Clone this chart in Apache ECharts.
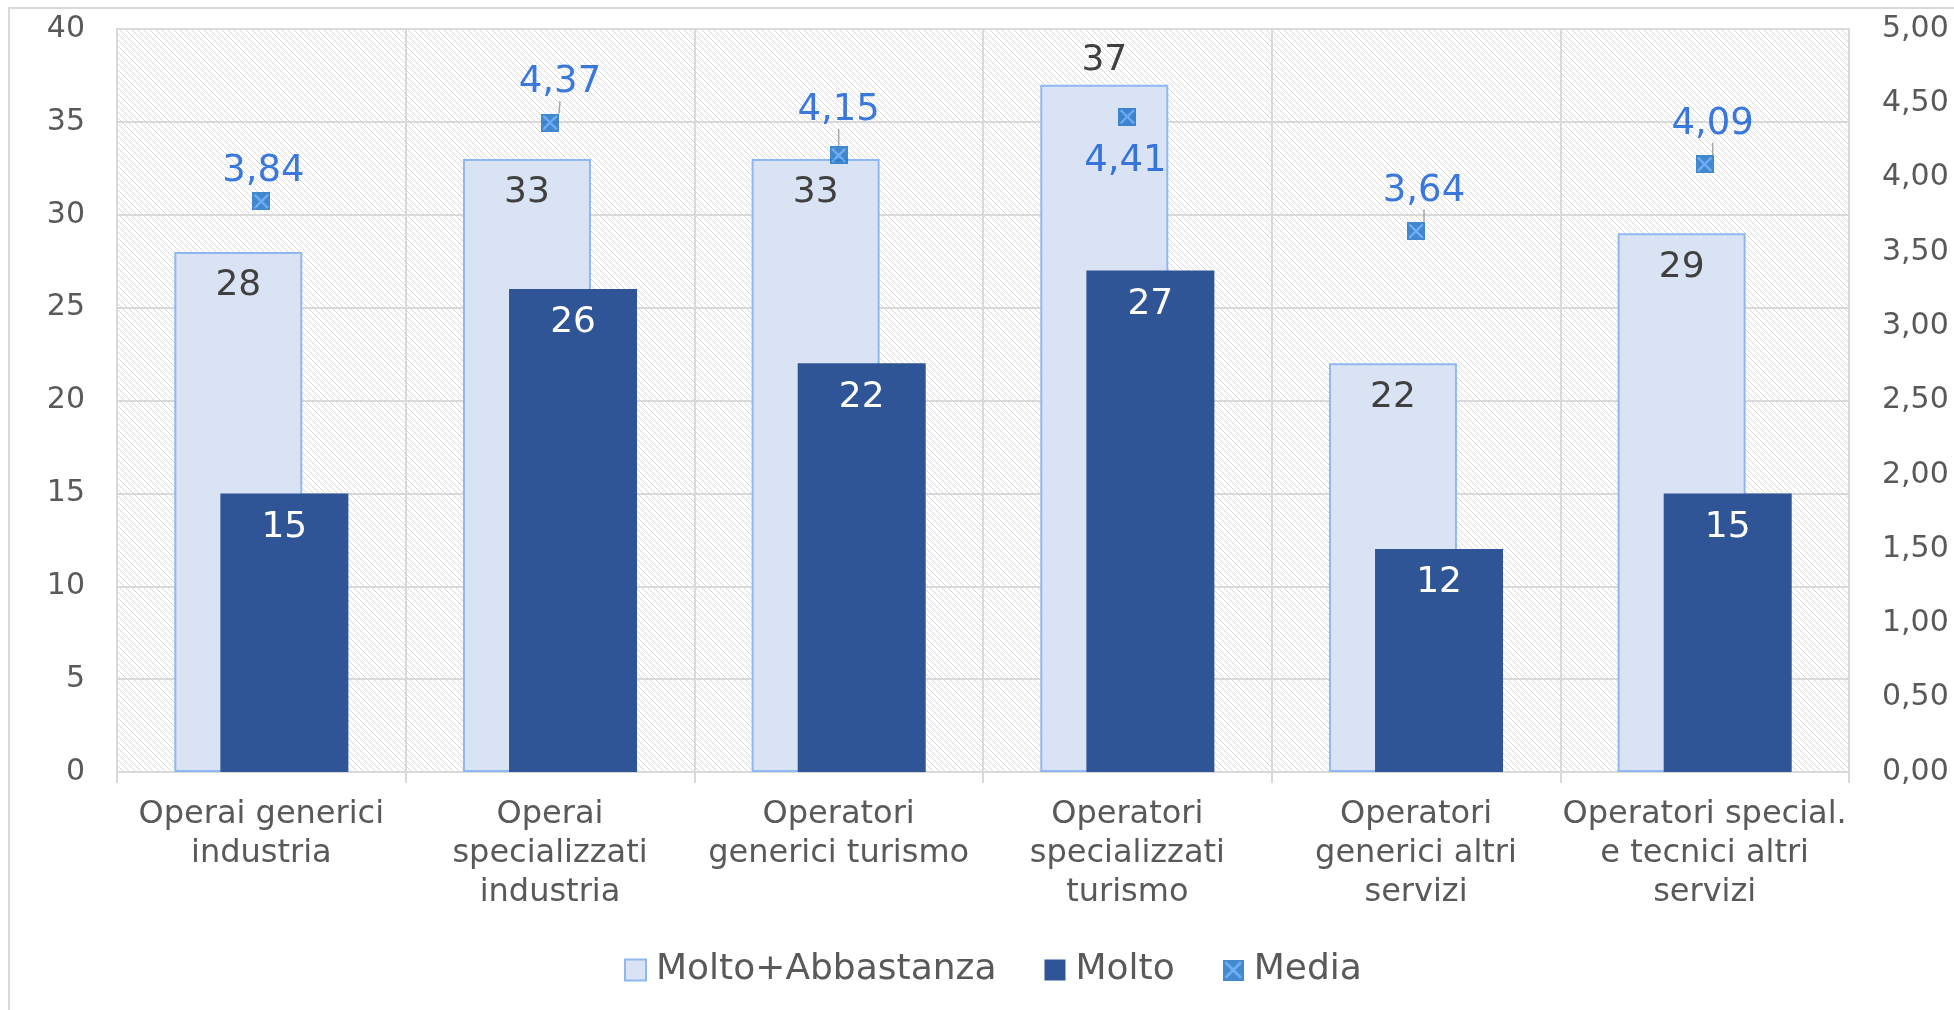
<!DOCTYPE html>
<html><head><meta charset="utf-8">
<script src="https://cdn.jsdelivr.net/npm/echarts@6/dist/echarts.min.js"></script>
<style>html,body{margin:0;padding:0;background:#fff}#c{width:1954px;height:1010px}</style>
</head><body><div id="c"></div>
<script>
const categories = [
  'Operai generici\nindustria',
  'Operai\nspecializzati\nindustria',
  'Operatori\ngenerici turismo',
  'Operatori\nspecializzati\nturismo',
  'Operatori\ngenerici altri\nservizi',
  'Operatori special.\ne tecnici altri\nservizi'
];
const moltoAbbastanza = [28, 33, 33, 37, 22, 29];
const molto = [15, 26, 22, 27, 12, 15];
const media = [3.84, 4.37, 4.15, 4.41, 3.64, 4.09];
const leftMax = 40, leftStep = 5;
const rightMax = 5, rightStep = 0.5;

// styling helpers (not data)
const mabLabelPos = ['insideTop','insideTop','insideTop','top','insideTop','insideTop'];
const mediaLabelOffset = [[2,-30],[10,-40],[0,-45],[-2,45],[8,-40],[8,-40]];
const mediaLeader = [false,true,true,false,true,true];

const fmt = v => Number(v).toFixed(2).replace('.', ',');

// hatched plot background
const pc = document.createElement('canvas'); pc.width = 6; pc.height = 6;
const g = pc.getContext('2d');
g.fillStyle = '#ffffff'; g.fillRect(0,0,6,6);
g.strokeStyle = '#d9d9d9'; g.lineWidth = 1;
g.beginPath();
g.moveTo(-1,-1); g.lineTo(7,7);
g.moveTo(-1,5); g.lineTo(1,7);
g.moveTo(5,-1); g.lineTo(7,1);
g.stroke();

// marker: blue square with lighter X
const mc = document.createElement('canvas'); mc.width = 54; mc.height = 54;
const m = mc.getContext('2d');
m.fillStyle = '#146cc4'; m.fillRect(0,0,54,54);
m.strokeStyle = '#4f9cf2'; m.lineWidth = 7; m.lineCap = 'butt';
m.beginPath(); m.moveTo(7,7); m.lineTo(47,47); m.moveTo(47,7); m.lineTo(7,47); m.stroke();
const markerImg = 'image://' + mc.toDataURL();

const chart = echarts.init(document.getElementById('c'), null, {renderer:'canvas'});
const gridCol = '#d9d9d9';
const option = {
  animation: false,
  textStyle: {fontFamily: '"DejaVu Sans", Verdana, sans-serif'},
  graphic: [{type:'rect', shape:{x:9, y:8, width:2000, height:1100}, style:{fill:'none', stroke:gridCol, lineWidth:2}, z:-10, silent:true}],
  grid: {left:117, right:105, top:29, bottom:238, show:true,
         backgroundColor:{image:pc, repeat:'repeat'}, borderColor:gridCol, borderWidth:2,
         outerBoundsMode:'none', containLabel:false},
  legend: {
    data: ['Molto+Abbastanza', 'Molto', {name:'Media', icon:markerImg}],
    icon: 'rect', left: 619, top: 947, itemWidth: 21, itemHeight: 21, itemGap: 48,
    textStyle: {fontSize: 36, color: '#595959', padding:[0,0,0,5]}
  },
  xAxis: {
    type: 'category', data: categories,
    axisLine: {lineStyle:{color:gridCol, width:2}},
    axisTick: {show:true, length:11, lineStyle:{color:gridCol, width:2}},
    splitLine: {show:true, lineStyle:{color:gridCol, width:2}},
    axisLabel: {color:'#595959', fontSize:32, lineHeight:39, margin:23, interval:0}
  },
  yAxis: [
    {type:'value', min:0, max:leftMax, interval:leftStep,
     axisLine:{show:false}, axisTick:{show:false},
     splitLine:{lineStyle:{color:gridCol, width:2}},
     axisLabel:{color:'#595959', fontSize:30, margin:32}},
    {type:'value', min:0, max:rightMax, interval:rightStep, position:'right',
     axisLine:{show:false}, axisTick:{show:false}, splitLine:{show:false},
     axisLabel:{color:'#595959', fontSize:30, margin:33, formatter: fmt}}
  ],
  series: [
    {name:'Molto+Abbastanza', type:'bar', barWidth:128, barGap:'-64%',
     data: moltoAbbastanza.map((v,i) => ({value:v, label:{position:mabLabelPos[i], distance: mabLabelPos[i]==='top' ? 6 : 16}})),
     itemStyle:{color:'#dae3f3', borderColor:'#8fb8f0', borderWidth:2},
     label:{show:true, position:'insideTop', distance:16, fontSize:36, color:'#404040'}},
    {name:'Molto', type:'bar', barWidth:128, barGap:'-64%',
     data: molto,
     itemStyle:{color:'#2f5597'},
     label:{show:true, position:'insideTop', distance:16, fontSize:36, color:'#ffffff'}},
    {name:'Media', type:'scatter', yAxisIndex:1, symbol:markerImg, symbolSize:18, z:5,
     data: media.map((v,i) => ({value:v, labelLine:{show:mediaLeader[i]}})),
     itemStyle:{color:'#146cc4'},
     label:{show:true, position:'inside', fontSize:37, color:'#0b57d4', formatter: p => fmt(p.value)},
     labelLine:{show:true, lineStyle:{color:'#a6a6a6', width:1.5}},
     labelLayout: p => ({dx: mediaLabelOffset[p.dataIndex][0], dy: mediaLabelOffset[p.dataIndex][1]})}
  ]
};
chart.setOption(option);
</script>
</body></html>
